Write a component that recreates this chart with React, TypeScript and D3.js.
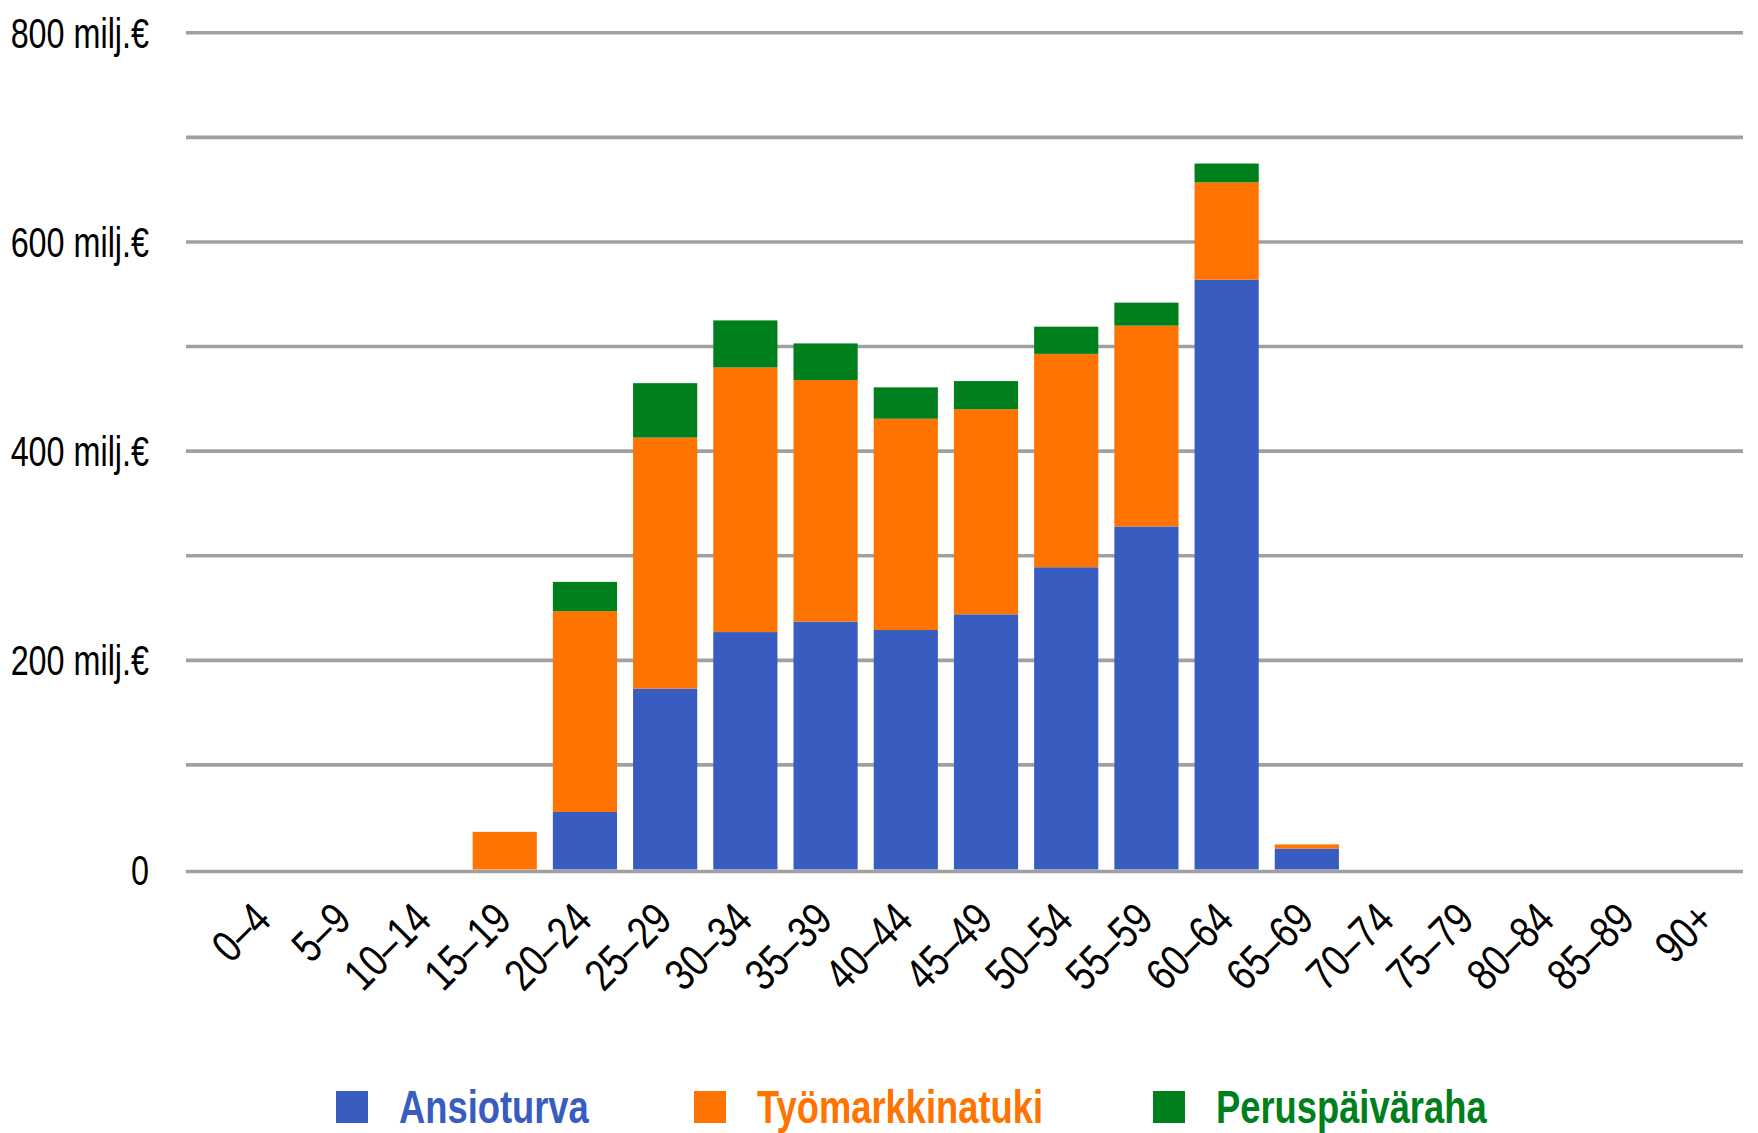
import * as d3 from "d3";

document.body.style.margin = "0";

const categories = ["0–4", "5–9", "10–14", "15–19", "20–24", "25–29", "30–34", "35–39", "40–44", "45–49", "50–54", "55–59", "60–64", "65–69", "70–74", "75–79", "80–84", "85–89", "90+"];
const ansioturva = [0, 0, 0, 0, 55, 173, 227, 237, 229, 244, 289, 328, 564, 20, 0, 0, 0, 0, 0];
const tyomarkkinatuki = [0, 0, 0, 36, 192, 240, 253, 231, 202, 196, 204, 192, 93, 4, 0, 0, 0, 0, 0];
const peruspaivaraha = [0, 0, 0, 0, 28, 52, 45, 35, 30, 27, 26, 22, 18, 0, 0, 0, 0, 0, 0];
const seriesNames = ["Ansioturva", "Työmarkkinatuki", "Peruspäiväraha"];
const yTicks = [0, 100, 200, 300, 400, 500, 600, 700, 800];
const yLabels = ["0", "", "200 milj.€", "", "400 milj.€", "", "600 milj.€", "", "800 milj.€"];

const colors = ["#395cc0", "#ff7300", "#007f1d"];
const font = "'Liberation Sans', Arial, sans-serif";
// condensed look: squeeze glyphs horizontally
const squeeze = 0.77;

export default function App() {
  const width = 1758;
  const height = 1133;

  const rows = categories.map((c, i) => ({
    cat: c,
    Ansioturva: ansioturva[i],
    Työmarkkinatuki: tyomarkkinatuki[i],
    Peruspäiväraha: peruspaivaraha[i],
  }));
  const stacked = d3.stack<any>().keys(seriesNames)(rows);

  const x = d3.scaleBand().domain(categories).range([224, 1748]).paddingInner(0.2).paddingOuter(0.1);
  const y = d3.scaleLinear().domain([0, 800]).range([869.5, 32.8]);

  const legendX = [336, 694, 1153];

  return (
    <svg width={width} height={height} style={{ display: "block", background: "#fff" }} fontFamily={font}>
      {/* gridlines */}
      {yTicks.filter(t => t > 0).map(t => (
        <line key={t} x1={186} x2={1743} y1={y(t)} y2={y(t)} stroke="#a0a0a0" strokeWidth={3.6} />
      ))}
      {/* bars */}
      {stacked.map((s, si) => (
        <g key={s.key} fill={colors[si]}>
          {s.map((d, i) => (
            d[1] - d[0] > 0 ? (
              <rect key={i} x={x(categories[i])} width={x.bandwidth()} y={y(d[1])} height={y(d[0]) - y(d[1])} />
            ) : null
          ))}
        </g>
      ))}
      <line x1={186} x2={1743} y1={y(0) + 2} y2={y(0) + 2} stroke="#a0a0a0" strokeWidth={3.6} />
      {/* y labels */}
      {yTicks.map((t, i) => yLabels[i] ? (
        <text key={t} transform={`translate(149,${y(t)}) scale(${squeeze},1)`} dy="0.36em" textAnchor="end" fontSize={42} fill="#000">{yLabels[i]}</text>
      ) : null)}
      {/* x labels */}
      {categories.map(c => (
        <text key={c} transform={`translate(${x(c)! + x.bandwidth() / 2 + 9},922) rotate(-45) scale(0.8,1)`} textAnchor="end" fontSize={45} fill="#000">{c}</text>
      ))}
      {/* legend */}
      {seriesNames.map((n, i) => (
        <g key={n}>
          <rect x={legendX[i]} y={1091} width={32} height={32} fill={colors[i]} />
          <text transform={`translate(${legendX[i] + 63},1123) scale(0.79,1)`} fontSize={46} fontWeight="bold" fill={colors[i]}>{n}</text>
        </g>
      ))}
    </svg>
  );
}
